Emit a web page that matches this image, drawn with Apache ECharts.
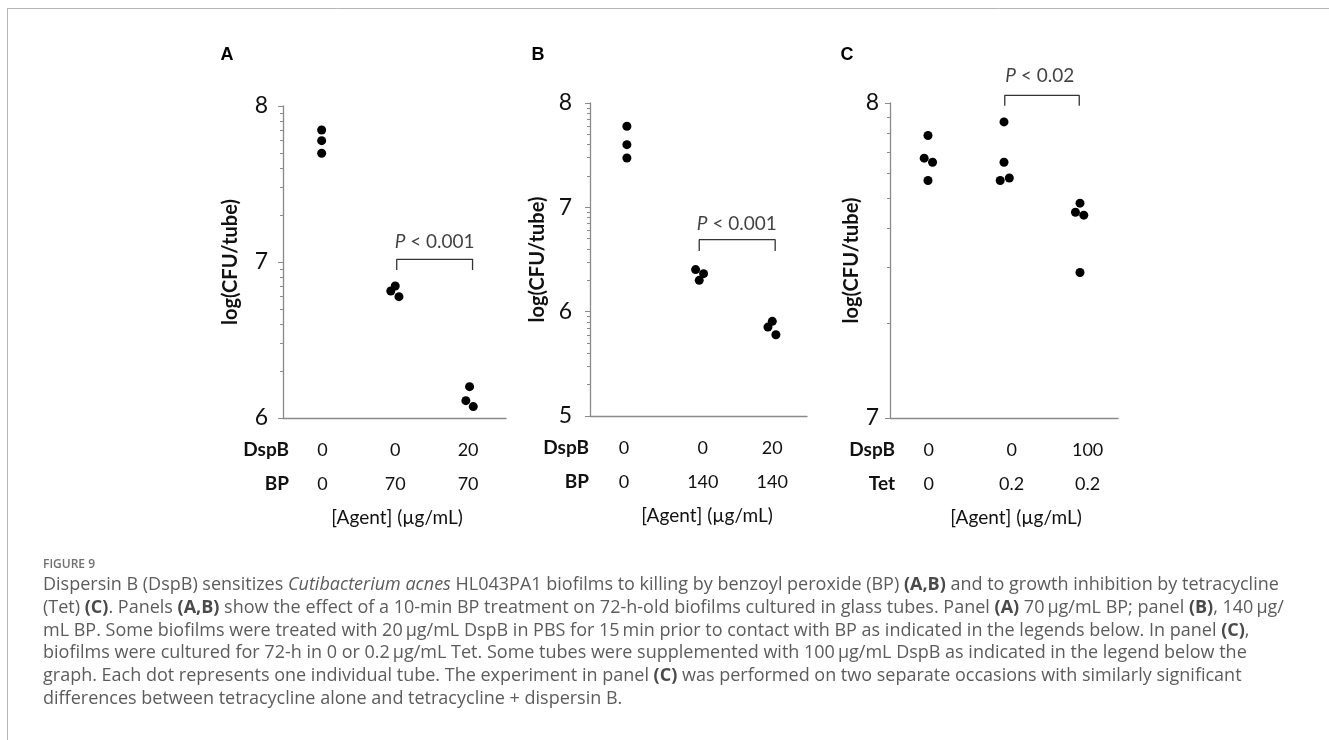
<!DOCTYPE html>
<html><head><meta charset="utf-8">
<script src="https://cdn.jsdelivr.net/npm/echarts@6/dist/echarts.min.js"></script>
<style>html,body{margin:0;padding:0;background:#fff}#c{width:1329px;height:740px}</style>
</head><body><div id="c"></div>
<script>
// ---------------- DATA ----------------
const panelLetters = ['A', 'B', 'C'];
const rowNamesA = ['DspB', 'BP'];
const dspbA = ['0', '0', '20'];
const bpA = ['0', '70', '70'];
const rowNamesB = ['DspB', 'BP'];
const dspbB = ['0', '0', '20'];
const bpB = ['0', '140', '140'];
const rowNamesC = ['DspB', 'Tet'];
const dspbC = ['0', '0', '100'];
const tetC = ['0', '0.2', '0.2'];
const xAxisTitle = '[Agent] (\u00b5g/mL)';
const yAxisTitle = 'log(CFU/tube)';
// y tick labels (log10 CFU)
const yTicksA = [6, 7, 8];
const yTicksB = [5, 6, 7, 8];
const yTicksC = [7, 8];
// each dot = one tube: [group position incl. jitter, log(CFU/tube)]
const dotsA = [[0.52, 7.846], [0.52, 7.778], [0.52, 7.697],
               [1.45, 6.814], [1.51, 6.846], [1.56, 6.778],
               [2.51, 6.201], [2.46, 6.111], [2.56, 6.073]];
const dotsB = [[0.51, 7.777], [0.51, 7.601], [0.51, 7.473],
               [1.46, 6.403], [1.57, 6.364], [1.51, 6.300],
               [2.52, 5.907], [2.46, 5.852], [2.57, 5.779]];
const dotsC = [[0.50, 7.897], [0.45, 7.825], [0.56, 7.812], [0.50, 7.754],
               [1.50, 7.940], [1.50, 7.812], [1.45, 7.754], [1.57, 7.762],
               [2.50, 7.682], [2.44, 7.653], [2.55, 7.644], [2.50, 7.462]];
// significance brackets: [x left, x right, y top, y leg end]
const bracketA = [1.53, 2.55, 7.017, 6.949];
const bracketB = [1.51, 2.56, 6.690, 6.581];
const bracketC = [1.51, 2.49, 8.024, 7.991];
// p-value labels: [x, y, text]
const pLabelA = [2.04, 7.13, '< 0.001'];
const pLabelB = [2.03, 6.843, '< 0.001'];
const pLabelC = [1.97, 8.085, '< 0.02'];
// x label positions of the three groups
const labelPosA = [0.53, 1.51, 2.49];
const labelPosB = [0.47, 1.56, 2.52];
const labelPosC = [0.51, 1.60, 2.60];

const figureTitle = 'FIGURE 9';
const captionLines = [
  'Dispersin B (DspB) sensitizes {i|Cutibacterium acnes} HL043PA1 biofilms to killing by benzoyl peroxide (BP) {b|(A,B)} and to growth inhibition by tetracycline',
  '(Tet) {b|(C)}. Panels {b|(A,B)} show the effect of a 10-min BP treatment on 72-h-old biofilms cultured in glass tubes. Panel {b|(A)} 70\u2009\u00b5g/mL BP; panel {b|(B)}, 140\u2009\u00b5g/',
  'mL BP. Some biofilms were treated with 20\u2009\u00b5g/mL DspB in PBS for 15\u2009min prior to contact with BP as indicated in the legends below. In panel {b|(C)},',
  'biofilms were cultured for 72-h in 0 or 0.2\u2009\u00b5g/mL Tet. Some tubes were supplemented with 100\u2009\u00b5g/mL DspB as indicated in the legend below the',
  'graph. Each dot represents one individual tube. The experiment in panel {b|(C)} was performed on two separate occasions with similarly significant',
  'differences between tetracycline alone and tetracycline + dispersin B.'
];

// ---------------- LAYOUT ----------------
const FONT = 'Lato, "Open Sans", sans-serif';
const AXIS_COLOR = '#8a8a8a';
const panels = [
  {grid: {left: 283, top: 106, width: 223, height: 312}, yMin: 6, yMax: 8, yTicks: yTicksA, dots: dotsA,
   bracket: bracketA, p: pLabelA, rows: rowNamesA, r1: dspbA, r2: bpA, pos: labelPosA,
   labMargin: 15, nameGap: 42, letterX: 227, headerX: 289, titleX: 397},
  {grid: {left: 590, top: 103, width: 217, height: 313}, yMin: 5, yMax: 8, yTicks: yTicksB, dots: dotsB,
   bracket: bracketB, p: pLabelB, rows: rowNamesB, r1: dspbB, r2: bpB, pos: labelPosB,
   labMargin: 18, nameGap: 42, letterX: 538, headerX: 589, titleX: 707},
  {grid: {left: 890, top: 103, width: 228, height: 315}, yMin: 7, yMax: 8, yTicks: yTicksC, dots: dotsC,
   bracket: bracketC, p: pLabelC, rows: rowNamesC, r1: dspbC, r2: tetC, pos: labelPosC,
   labMargin: 11, nameGap: 28, letterX: 847, headerX: 895, titleX: 1016}
];

function minorTicks(lo, hi) {
  const out = [];
  for (let d = lo; d < hi; d++) for (let k = 2; k <= 9; k++) out.push(d + Math.log10(k));
  return out;
}

const grid = [], xAxis = [], yAxis = [], series = [], graphic = [];

// frame lines
graphic.push({type: 'line', shape: {x1: 7, y1: 8.5, x2: 1329, y2: 8.5}, style: {stroke: '#b5b5b5', lineWidth: 1}, silent: true});
graphic.push({type: 'line', shape: {x1: 7.5, y1: 8, x2: 7.5, y2: 740}, style: {stroke: '#b5b5b5', lineWidth: 1}, silent: true});

// minor-tick overlay grids (log-decade ticks)
panels.forEach((p, i) => {
  grid.push(Object.assign({containLabel: false}, p.grid));
  xAxis.push({type: 'value', gridIndex: i, min: 0, max: 3, show: false});
  yAxis.push({
    type: 'value', gridIndex: i, min: p.yMin, max: p.yMax, position: 'left',
    axisLine: {show: true, onZero: false, lineStyle: {color: 'rgba(0,0,0,0)', width: 1}},
    axisTick: {show: true, inside: false, customValues: minorTicks(p.yMin, p.yMax), length: 3, lineStyle: {color: AXIS_COLOR, width: 1}},
    axisLabel: {show: false}, splitLine: {show: false}
  });
});

panels.forEach((p, i) => {
  const g = grid.length;
  grid.push(Object.assign({containLabel: false}, p.grid));
  const bottom = p.grid.top + p.grid.height;
  xAxis.push({
    type: 'value', gridIndex: g, min: 0, max: 3, position: 'bottom',
    axisLine: {show: true, lineStyle: {color: AXIS_COLOR, width: 1.3}},
    axisTick: {show: false}, splitLine: {show: false},
    axisLabel: {
      customValues: p.pos, margin: 15, color: '#111', fontFamily: FONT, fontSize: 18, lineHeight: 34,
      formatter: (v) => {
        const k = p.pos.findIndex(q => Math.abs(q - v) < 1e-6);
        return k < 0 ? '' : p.r1[k] + '\n' + p.r2[k];
      }
    }
  });
  yAxis.push({
    type: 'value', gridIndex: g, min: p.yMin, max: p.yMax, position: 'left',
    axisLine: {show: true, onZero: false, lineStyle: {color: AXIS_COLOR, width: 1.3}},
    axisTick: {show: true, inside: false, customValues: p.yTicks, length: 5, lineStyle: {color: AXIS_COLOR, width: 1}},
    axisLabel: {customValues: p.yTicks, margin: p.labMargin, color: '#111', fontFamily: FONT, fontSize: 23},
    splitLine: {show: false},
    name: yAxisTitle, nameLocation: 'middle', nameGap: p.nameGap,
    nameTextStyle: {fontFamily: FONT, fontWeight: 'bold', fontSize: 20, color: '#111'}
  });
  series.push({
    type: 'scatter', xAxisIndex: g, yAxisIndex: g, data: p.dots, symbolSize: 9,
    itemStyle: {color: '#000', opacity: 1}, clip: false, silent: true
  });
  const b = p.bracket;
  series.push({
    type: 'line', xAxisIndex: g, yAxisIndex: g,
    data: [[b[0], b[3]], [b[0], b[2]], [b[1], b[2]], [b[1], b[3]]],
    symbol: 'none', lineStyle: {color: '#333', width: 1.3}, clip: false, silent: true, animation: false
  });
  series.push({
    type: 'scatter', xAxisIndex: g, yAxisIndex: g, data: [[p.p[0], p.p[1]]], symbolSize: 0, clip: false, silent: true,
    label: {show: true, position: 'inside', formatter: '{i|P} ' + p.p[2], color: '#111', fontFamily: FONT, fontSize: 19,
            rich: {i: {fontStyle: 'italic', fontFamily: FONT, fontSize: 19, color: '#111'}}}
  });
  graphic.push({type: 'text', x: p.letterX, y: 55, style: {text: panelLetters[i], font: 'bold 18px "Liberation Sans", Arial, sans-serif', fill: '#000', textAlign: 'center', textVerticalAlign: 'middle'}});
  p.rows.forEach((r, k) => {
    graphic.push({type: 'text', x: p.headerX, y: bottom + 32 + k * 34, style: {text: r, fontFamily: FONT, fontWeight: 'bold', fontSize: 19, fill: '#111', textAlign: 'right', textVerticalAlign: 'middle'}});
  });
  graphic.push({type: 'text', x: p.titleX, y: bottom + 100, style: {text: xAxisTitle, fontFamily: FONT, fontSize: 19, fill: '#111', textAlign: 'center', textVerticalAlign: 'middle'}});
});

// caption
const CAP_FONT = '"Open Sans", "Noto Sans", sans-serif';
graphic.push({type: 'text', x: 43, y: 565, style: {text: figureTitle, fontFamily: CAP_FONT, fontSize: 12, fontWeight: 600, fill: '#707070', textVerticalAlign: 'middle'}});
captionLines.forEach((line, k) => {
  graphic.push({type: 'text', x: 43, y: 585 + k * 22.7, style: {
    text: line, fontFamily: CAP_FONT, fontSize: 18, fill: '#5c5c5c', textVerticalAlign: 'middle',
    rich: {
      i: {fontStyle: 'italic', fontFamily: CAP_FONT, fontSize: 18, fill: '#5c5c5c'},
      b: {fontWeight: 'bold', fontFamily: CAP_FONT, fontSize: 18, fill: '#4a4a4a'}
    }
  }});
});

const chart = echarts.init(document.getElementById('c'), null, {renderer: 'canvas'});
chart.setOption({animation: false, backgroundColor: '#fff', grid, xAxis, yAxis, series, graphic});
</script></body></html>
